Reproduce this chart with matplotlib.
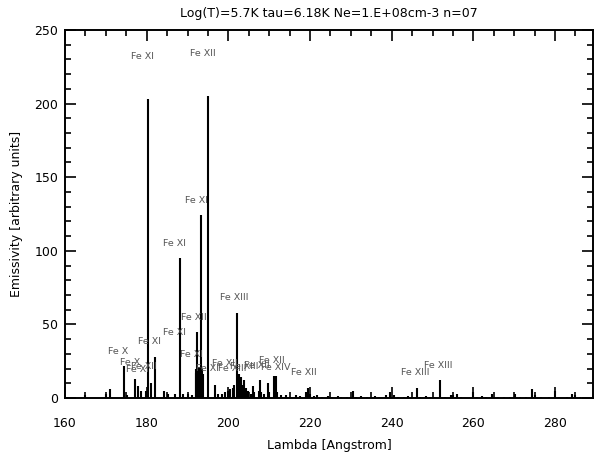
"""Synthetic emissivity spectrum, IDL-style plot."""
import matplotlib
matplotlib.use("Agg")
import matplotlib.pyplot as plt
from matplotlib.ticker import MultipleLocator

TITLE = "Log(T)=5.7K tau=6.18K Ne=1.E+08cm-3 n=07"

# line wavelengths (Angstrom) and emissivities (arbitrary units)
wave = [164.9, 170.0, 171.0, 174.5, 175.3, 177.2, 177.9, 178.7, 179.8,
        180.4, 181.1, 182.1, 184.2, 185.2, 186.9, 188.2, 188.9, 190.0,
        191.0, 192.0, 192.2, 192.33, 192.5, 192.7, 192.9, 193.1, 193.3,
        193.5, 193.7, 195.0, 196.7, 197.4, 198.5, 199.2, 200.0, 200.5,
        201.1, 201.5, 202.05, 202.4, 202.7, 203.0, 203.2, 203.6, 203.8,
        204.3, 204.9, 205.5, 206.0, 206.4, 207.5, 207.7, 208.0, 208.7,
        209.6, 210.0, 211.3, 211.7, 212.0, 213.0, 214.0, 215.0, 216.5,
        217.5, 219.1, 219.5, 220.0, 221.0, 221.8, 223.0, 224.5, 225.5,
        226.8, 227.5, 229.0, 230.5, 231.3, 232.5, 234.0, 235.0, 236.0,
        237.0, 238.5, 239.6, 240.5, 241.5, 243.0, 244.0, 245.0, 246.2,
        247.0, 248.5, 249.5, 250.3, 251.9, 253.0, 254.5, 255.0, 256.0,
        257.0, 259.9, 261.0, 262.0, 263.0, 264.6, 266.0, 267.5, 269.0,
        270.2, 271.5, 273.0, 274.4, 275.2, 276.5, 278.5, 280.0, 281.0,
        283.0, 284.2, 284.8, 286.0, 287.5]
emis = [2, 3, 6, 22, 2, 13, 8, 5, 5,
        203, 10, 28, 5, 3, 3, 95, 3, 3,
        2, 17, 20, 45, 19, 21, 18, 20, 124,
        20, 16, 205, 9, 3, 3, 4, 5, 6,
        7, 9, 58, 12, 16, 14, 10, 9, 12,
        7, 5, 3, 8, 4, 5, 12, 4, 3,
        10, 4, 15, 15, 4, 2, 2, 1, 2,
        1.5, 4, 7, 3, 1.5, 2, 1, 1.5, 1,
        1.5, 1, 1, 5, 1, 1.5, 1, 1, 1.5,
        1, 2, 4, 2, 1, 1, 1.5, 1, 7,
        1, 1.5, 1, 1, 12, 1, 2, 2, 2.5,
        1, 4, 1, 1.5, 1, 3, 1, 1, 1,
        3, 1, 1, 6, 2, 1, 1, 5, 1,
        1, 3, 2, 1, 1]

# ion labels: text, wavelength, height
lab_text = ["Fe XI", "Fe XII", "Fe XI", "Fe XI", "Fe XIII", "Fe XII", "Fe XI",
            "Fe XI", "Fe X", "Fe XI", "Fe X", "Fe XI", "Fe XII", "Fe XI",
            "Fe XII", "Fe XIII", "Fe XIII", "Fe XII", "Fe XII", "Fe XIV",
            "Fe XII", "Fe XIII", "Fe XIII"]
lab_x = [179.1, 193.8, 192.3, 186.9, 201.4, 191.6, 186.9,
         180.8, 173.0, 190.9, 175.9, 177.7, 179.2, 195.0,
         199.2, 200.9, 203.8, 207.0, 210.7, 211.7,
         218.5, 245.7, 251.4]
lab_y = [232, 234, 134.5, 104.7, 68.2, 54.7, 44.6,
         38.5, 31.8, 29.7, 24.3, 19.5, 21.5, 20.3,
         23.6, 20.3, 21.6, 22.3, 25.7, 20.9,
         17.6, 17.6, 22.3]

fig = plt.figure(figsize=(5.94, 4.57), dpi=100)
ax = fig.add_axes([65 / 594, 1 - 398 / 457, 528 / 594, 368 / 457])

ax.vlines(wave, 0, emis, color="black", lw=1.5)
for t, x, y in zip(lab_text, lab_x, lab_y):
    ax.text(x, y, t, ha="center", va="center", fontsize=6.8, color="#555555")

ax.set_xlim(160, 289.3)
ax.set_ylim(0, 250)
ax.xaxis.set_major_locator(MultipleLocator(20))
ax.xaxis.set_minor_locator(MultipleLocator(5))
ax.yaxis.set_major_locator(MultipleLocator(50))
ax.yaxis.set_minor_locator(MultipleLocator(10))
ax.tick_params(which="both", direction="in", top=True, right=True,
               colors="black", labelsize=9)
ax.tick_params(which="major", length=8, width=1.2)
ax.tick_params(which="minor", length=4, width=1.2)
ax.tick_params(axis="x", pad=14)
ax.tick_params(axis="y", pad=5)
for s in ax.spines.values():
    s.set_linewidth(1.4)

ax.set_title(TITLE, fontsize=9, pad=9)
ax.set_xlabel("Lambda [Angstrom]", fontsize=9, labelpad=6)
ax.set_ylabel("Emissivity [arbitrary units]", fontsize=9, labelpad=8)

fig.savefig("out.png", dpi=100)
